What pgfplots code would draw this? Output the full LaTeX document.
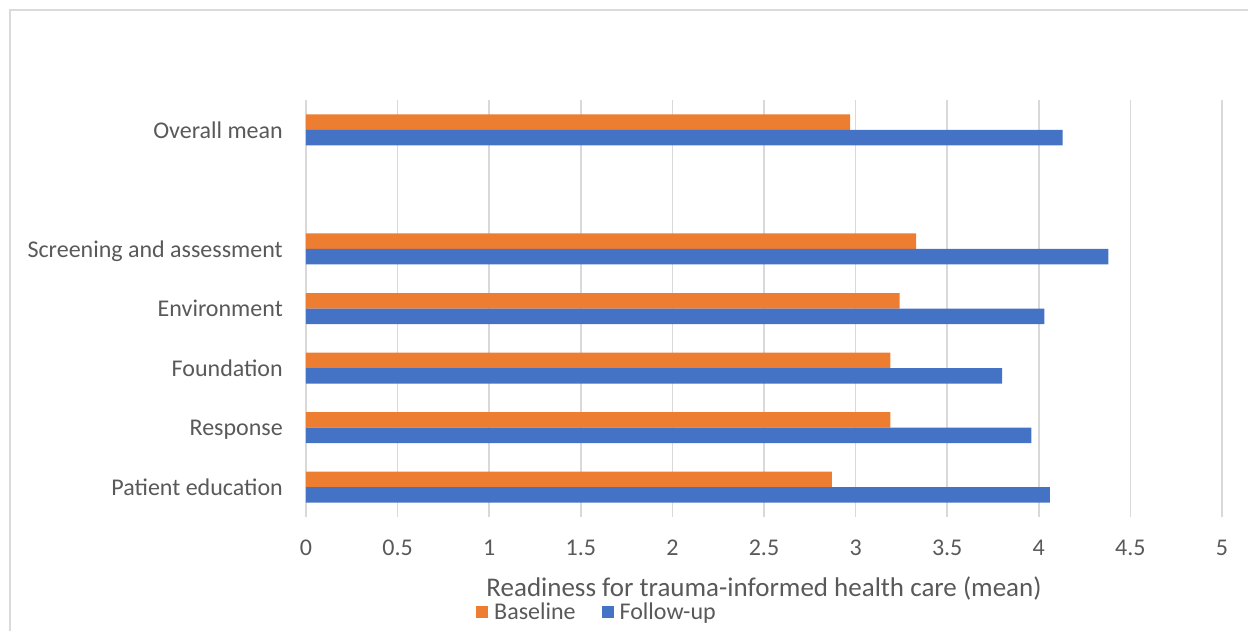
\documentclass[border=0pt]{standalone}
\usepackage{fontspec}
\setmainfont{Carlito}
\usepackage{pgfplots}
\pgfplotsset{compat=1.18}

\definecolor{baseorange}{HTML}{ED7D31}
\definecolor{followblue}{HTML}{4472C4}
\definecolor{labelgray}{HTML}{595959}
\definecolor{gridgray}{HTML}{D9D9D9}
\definecolor{framegray}{HTML}{DADADA}

\begin{document}
\begin{tikzpicture}
% page extent
\path[use as bounding box] (-306pt,-113pt) rectangle (942pt,517pt);
% chart frame
\draw[framegray, line width=2pt] (-296pt,-140pt) rectangle (960pt,507pt);
\begin{axis}[
  at={(0,0)}, anchor=south west,
  scale only axis, width=916pt, height=417pt,
  xbar, bar width=15.5pt,
  xmin=0, xmax=5, ymin=-0.5, ymax=6.5,
  xtick={0,0.5,1,1.5,2,2.5,3,3.5,4,4.5,5},
  ytick={0,1,2,3,4,6},
  yticklabels={Patient education, Response, Foundation, Environment, Screening and assessment, Overall mean},
  axis line style={draw=none},
  major tick length=0pt,
  xmajorgrids, grid style={gridgray, line width=1.6pt},
  /pgf/number format/assume math mode=true,
  tick label style={font=\fontsize{24}{28}\selectfont, text=labelgray, inner sep=0pt},
  xticklabel style={anchor=center, yshift=-31pt},
  yticklabel style={anchor=east, xshift=-23pt, text depth=0pt},
  xlabel={Readiness for trauma-informed health care (mean)},
  xlabel style={font=\fontsize{27}{31}\selectfont, text=labelgray, at={(axis description cs:0.5,-0.1703)}, anchor=center},
  legend columns=2,
  legend style={draw=none, fill=none, inner sep=0pt, at={(axis description cs:0.1856,-0.2278)}, anchor=west,
    font=\fontsize{24}{28}\selectfont, text=labelgray,
    /tikz/every even column/.append style={column sep=26pt},
    nodes={inner sep=0pt, anchor=west}},
  legend image code/.code={\fill[#1] (0pt,-6pt) rectangle (12pt,6pt); \path (18pt,0pt);},
]
\addplot[fill=baseorange, draw=none, bar shift=7.75pt] coordinates {
  (2.87,0) (3.19,1) (3.19,2) (3.24,3) (3.33,4) (2.97,6)};
\addplot[fill=followblue, draw=none, bar shift=-7.75pt] coordinates {
  (4.06,0) (3.96,1) (3.80,2) (4.03,3) (4.38,4) (4.13,6)};
\legend{Baseline, Follow-up}
\end{axis}
\end{tikzpicture}
\end{document}
